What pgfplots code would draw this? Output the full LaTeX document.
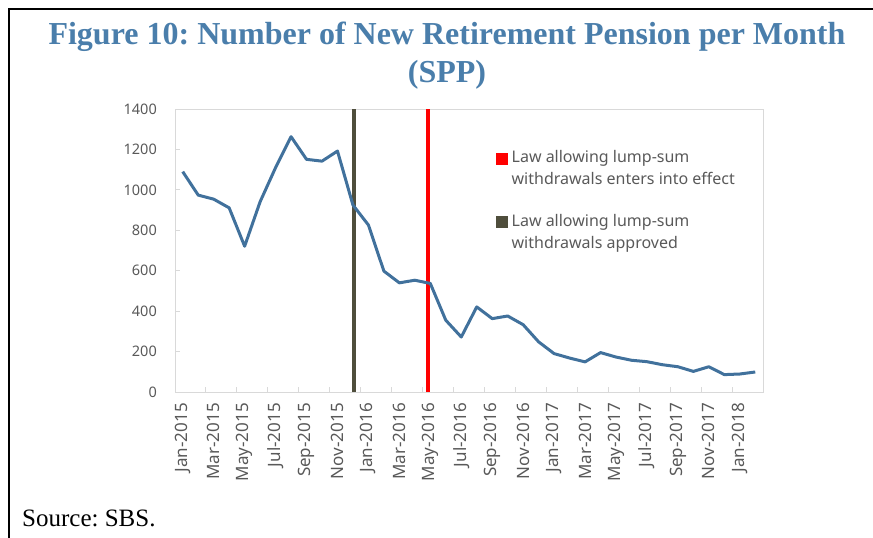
\documentclass[border=0pt]{standalone}
\usepackage{pgfplots}
\pgfplotsset{compat=1.18}
\usepackage{pgfplotstable}
\usepackage{fontspec}
\setmainfont{Liberation Serif}
\newfontfamily\uifont{Noto Sans}
\frenchspacing

\definecolor{pline}{HTML}{41719C}
\definecolor{ttl}{HTML}{4A7EAB}
\definecolor{olive}{HTML}{4F4E3C}
\definecolor{lbl}{HTML}{595959}
\definecolor{frm}{HTML}{D9D9D9}

% new retirement pensions per month, Jan-2015 (k=0) to Feb-2018 (k=37)
\pgfplotstableread{
k v
0 1090
1 974
2 954
3 911
4 721
5 941
6 1110
7 1263
8 1151
9 1142
10 1192
11 925
12 826
13 598
14 540
15 553
16 537
17 355
18 272
19 421
20 363
21 376
22 333
23 248
24 190
25 168
26 149
27 195
28 173
29 157
30 150
31 135
32 125
33 102
34 125
35 86
36 89
37 99
}\spp

\begin{document}
\begin{tikzpicture}
\path[use as bounding box] (0pt,0pt) rectangle (873pt,-538pt);
\draw[line width=2pt] (9pt,-538pt) -- (9pt,-9pt) -- (873pt,-9pt);
\node[anchor=base, inner sep=0pt, text=ttl, font=\fontsize{32}{38}\selectfont\bfseries]
  at (447pt,-44pt) {Figure 10: Number of New Retirement Pension per Month};
\node[anchor=base, inner sep=0pt, text=ttl, font=\fontsize{32}{38}\selectfont\bfseries]
  at (447pt,-82pt) {(SPP)};
\node[anchor=base west, inner sep=0pt, font=\fontsize{25}{28}\selectfont]
  at (22pt,-526pt) {Source: SBS.};

\begin{axis}[
  at={(175pt,-392pt)}, anchor=south west,
  scale only axis, width=588pt, height=283pt,
  xmin=-0.5, xmax=37.5, ymin=0, ymax=1400,
  ytick={0,200,...,1400},
  xtick={0,2,...,36},
  xticklabels={Jan-2015,Mar-2015,May-2015,Jul-2015,Sep-2015,Nov-2015,
    Jan-2016,Mar-2016,May-2016,Jul-2016,Sep-2016,Nov-2016,
    Jan-2017,Mar-2017,May-2017,Jul-2017,Sep-2017,Nov-2017,Jan-2018},
  minor xtick={1.5,3.5,...,35.5},
  major x tick style={draw=none},
  tick align=inside, tick pos=left,
  axis line style={frm, line width=1pt},
  tick style={draw=frm, line width=1pt},
  major tick length=5pt, minor tick length=5pt,
  x tick label style={rotate=90, anchor=east, inner sep=0pt,
    font=\uifont\fontsize{17}{19}\selectfont, text=lbl},
  y tick label style={anchor=east, inner sep=0pt,
    font=\uifont\fontsize{14.5}{17}\selectfont, text=lbl},
  xticklabel shift=11pt, yticklabel shift=18pt,
  /pgf/number format/assume math mode=true,
  /pgf/number format/1000 sep={},
  legend style={at={(0.545,0.86)}, anchor=north west, draw=none, fill=none,
    inner sep=0pt, font=\uifont\fontsize{16}{22}\selectfont, text=lbl,
    row sep=24pt, column sep=2pt, cells={anchor=west, align=left}},
  legend image code/.code={\fill[#1] (0pt,6pt) rectangle (8pt,14pt);},
]
\addplot[red, line width=4pt] coordinates {(15.83,0) (15.83,1400)};
\addlegendentry{Law allowing lump-sum\\withdrawals enters into effect}
\addplot[olive, line width=4pt] coordinates {(11.08,0) (11.08,1400)};
\addlegendentry{Law allowing lump-sum\\withdrawals approved}
\addplot[pline, line width=3pt, line join=round] table[x=k, y=v] {\spp};
\end{axis}
\end{tikzpicture}
\end{document}
